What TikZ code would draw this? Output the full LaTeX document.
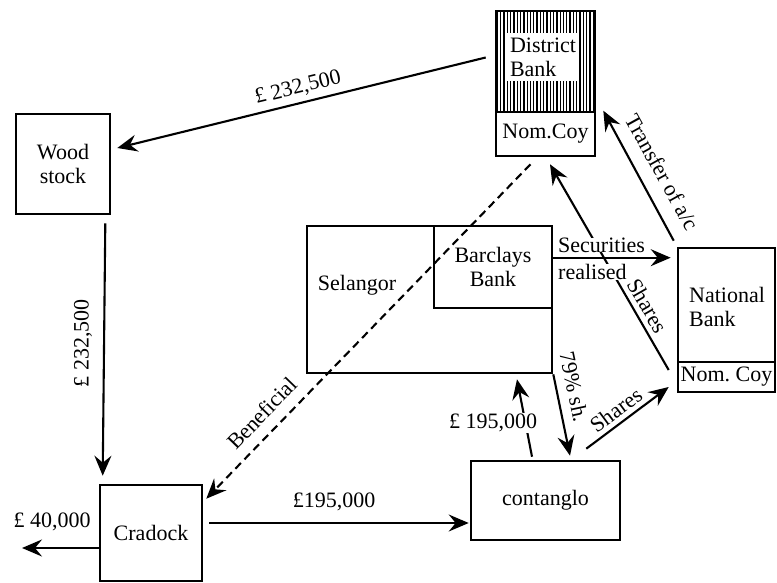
\documentclass[tikz,border=0pt]{standalone}
\usepackage{fontspec}
\setmainfont{Liberation Serif}
\usetikzlibrary{arrows.meta,calc}
\begin{document}
\begin{tikzpicture}[x=1pt,y=-1pt,
  box/.style={draw, line width=2.6pt, inner sep=0pt},
  arr/.style={line width=2.1pt, -{Stealth[length=20pt,width=17pt,inset=7pt]}},
  dasharr/.style={arr, dash pattern=on 8pt off 5pt},
  lbl/.style={font=\fontsize{22}{24}\selectfont, inner sep=1pt},
  hatch/.style={line width=1.3pt},
]
\useasboundingbox (0,0) rectangle (777,583);

% ---------- boxes ----------
\node[box, lbl, minimum width=94pt, minimum height=100pt, align=center] (wood) at (63,164) {Wood\\stock};
\node[box, lbl, minimum width=102pt, minimum height=96pt] (crad) at (151,533) {Cradock};
\node[box, lbl, minimum width=149pt, minimum height=79pt] (cont) at (545.5,500.5) {contanglo};

% District Bank
\foreach \i in {0,...,29} {
  \draw[hatch] (497.5+3.3*\i,12) -- (497.5+3.3*\i,111);
}
\fill[white] (507,33) rectangle (579,81);
\node[box, minimum width=99pt, minimum height=145pt] (db) at (545.5,83.5) {};
\node[box, lbl, minimum width=99pt, minimum height=44pt] (dbnom) at (545.5,134) {Nom.Coy};
\node[lbl, align=left] (dbtxt) at (543,57) {District\\Bank};

% Selangor / Barclays
\node[box, minimum width=245pt, minimum height=147pt] (sel) at (429.5,299.5) {};
\node[box, lbl, minimum width=118pt, minimum height=82pt, align=center] (barc) at (493,267) {Barclays\\Bank};
\node[lbl] (seltxt) at (357,285) {Selangor};

% National Bank
\node[box, minimum width=97pt, minimum height=144pt] (nat) at (726.5,320) {};
\node[box, lbl, minimum width=97pt, minimum height=30pt] (natnom) at (726.5,377) {Nom.\ Coy};
\node[lbl, align=left] (nattxt) at (727,307) {National\\Bank};

% ---------- connectors ----------
\coordinate (out40) at (22,548);

% District -> Wood stock
\draw[arr] ($(db.west)+(-9,-26)$) -- ($(wood.east)+(6,-16)$)
  node[lbl, pos=0.5, rotate=13.6, above=4pt] {£ 232,500};

% Wood stock -> Cradock
\draw[arr] ($(wood.south east)+(-6,8)$) -- ($(crad.north west)+(4,-8)$);
\node[lbl, rotate=90] (l232b) at (83,343) {£ 232,500};

% Cradock -> out
\draw[arr] ($(crad.west)+(0,15)$) -- (out40);
\node[lbl] (l40) at (52,522) {£ 40,000};

% Cradock -> contanglo
\draw[arr] ($(crad.east)+(6,-10)$) -- ($(cont.west)+(-1,22.5)$);
\node[lbl] (l195a) at (334,502) {£195,000};

% Beneficial (dashed) District -> Cradock
\draw[dasharr] ($(dbnom.south)+(-15,7)$) -- ($(crad.north east)+(3,15)$);
\node[lbl, rotate=46] (lben) at (262,413) {Beneficial};

% contanglo -> Selangor
\draw[arr] ($(cont.north)+(-13.5,-3)$) -- ($(sel.south)+(87.5,5)$);
\node[lbl, fill=white] (l195b) at (493,423) {£ 195,000};

% Selangor -> contanglo (79% sh.)
\draw[arr] (sel.south east) -- ($(cont.north)+(24.5,-4)$);
\node[lbl, rotate=-78] (l79) at (574,387) {79\% sh.};

% contanglo -> National Nom. Coy (Shares)
\draw[arr] ($(cont.north east)+(-35,-11)$) -- ($(natnom.west)+(-8,10)$);
\node[lbl, rotate=36.5] (lsh1) at (616,410) {Shares};

% National Nom. Coy -> District Nom.Coy (Shares)
\draw[arr] ($(natnom.west)+(-8,-7)$) -- ($(dbnom.south)+(4.5,7)$);
\node[lbl, rotate=-60] (lsh2) at (648,306) {Shares};

% Selangor/Barclays -> National (Securities realised)
\draw[arr] ($(sel.north east)+(0,33)$) -- ($(nat.north west)+(-6,11)$);
\node[lbl, fill=white, anchor=west, inner ysep=0pt] (lsec) at (557,245) {Securities};
\node[lbl, fill=white, anchor=west, inner ysep=0pt] (lrea) at (557,272) {realised};

% National -> District (Transfer of a/c)
\draw[arr] ($(nat.north west)+(-3,-6)$) -- ($(dbnom.north east)+(7,0)$);
\node[lbl, rotate=-61] (ltr) at (662,172) {Transfer of a/c};
\end{tikzpicture}
\end{document}
